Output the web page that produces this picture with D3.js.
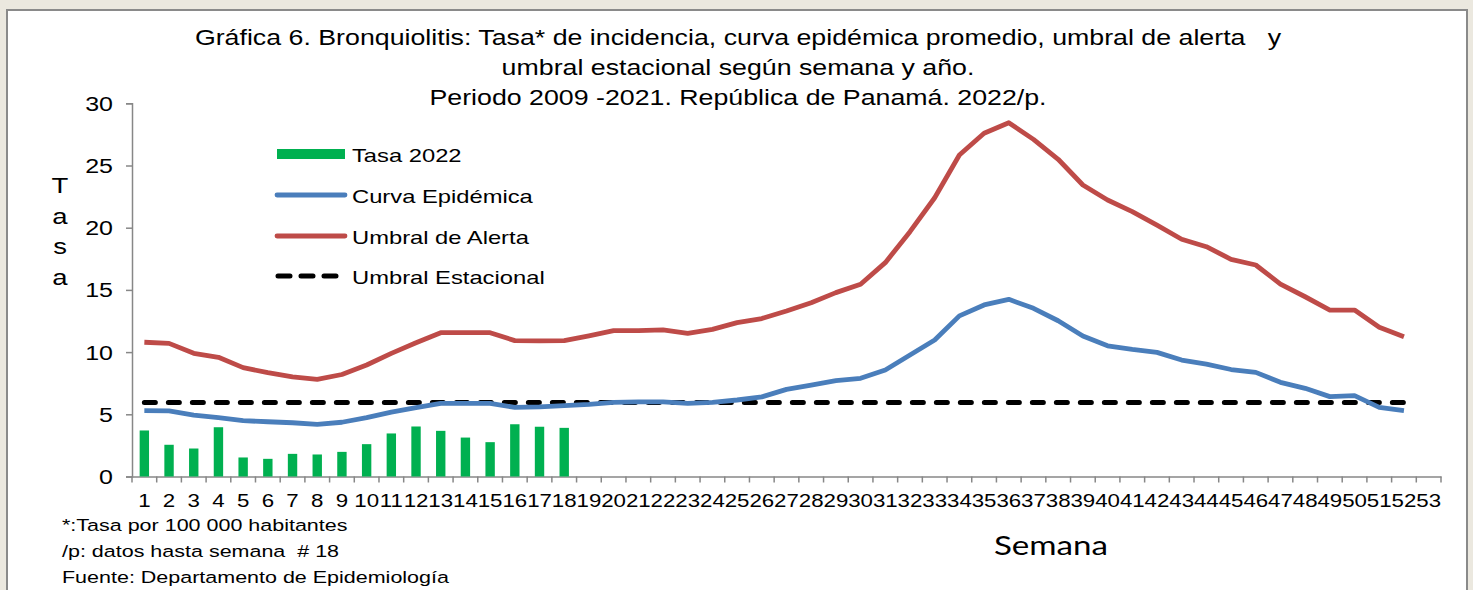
<!DOCTYPE html>
<html>
<head>
<meta charset="utf-8">
<script src="https://cdn.jsdelivr.net/npm/d3@7"></script>
<style>
  html, body { margin: 0; padding: 0; background: #ebe8df; }
  svg { display: block; }
  text { font-family: "Liberation Sans", Arial, sans-serif; fill: #000; }
</style>
</head>
<body>
<svg id="chart" width="1473" height="590"></svg>
<script>
// ---------------- DATA ----------------
const weeks = d3.range(1, 54).map(String); // categories 1..53
const lineWeeks = weeks.slice(0, 52);
const tasa2022 = [3.70, 2.55, 2.25, 3.96, 1.53, 1.42, 1.82, 1.77, 1.98, 2.60, 3.46, 4.02, 3.67, 3.13, 2.76, 4.20, 4.00, 3.91];
const curvaEpidemica = [5.29, 5.27, 4.94, 4.73, 4.49, 4.40, 4.32, 4.19, 4.36, 4.73, 5.18, 5.53, 5.88, 5.88, 5.88, 5.56, 5.60, 5.69,
  5.80, 5.96, 6.00, 6.00, 5.88, 5.96, 6.15, 6.40, 7.00, 7.35, 7.70, 7.89, 8.56, 9.77, 10.97, 12.91, 13.79, 14.24,
  13.52, 12.52, 11.29, 10.51, 10.22, 9.98, 9.36, 9.04, 8.60, 8.37, 7.57, 7.09, 6.42, 6.50, 5.56, 5.29];
const umbralAlerta = [10.79, 10.70, 9.90, 9.58, 8.75, 8.35, 8.00, 7.80, 8.20, 8.96, 9.90, 10.75, 11.56, 11.56, 11.56, 10.92, 10.90, 10.92,
  11.30, 11.72, 11.72, 11.78, 11.50, 11.83, 12.37, 12.70, 13.30, 13.97, 14.78, 15.45, 17.19, 19.68, 22.41, 25.84, 27.59, 28.44,
  27.10, 25.50, 23.43, 22.23, 21.29, 20.20, 19.07, 18.47, 17.46, 17.00, 15.47, 14.45, 13.38, 13.38, 12.00, 11.24];
const umbralEstacional = [5.95, 5.95, 5.95, 5.95, 5.95, 5.95, 5.95, 5.95, 5.95, 5.95, 5.95, 5.95, 5.95, 5.95, 5.95, 5.95, 5.95, 5.95,
  5.95, 5.95, 5.95, 5.95, 5.95, 5.95, 5.95, 5.95, 5.95, 5.95, 5.95, 5.95, 5.95, 5.95, 5.95, 5.95, 5.95, 5.95,
  5.95, 5.95, 5.95, 5.95, 5.95, 5.95, 5.95, 5.95, 5.95, 5.95, 5.95, 5.95, 5.95, 5.95, 5.95, 5.95];
const yTicks = [0, 5, 10, 15, 20, 25, 30];
const titleLines = [
  "Gráfica 6. Bronquiolitis: Tasa* de incidencia, curva epidémica promedio, umbral de alerta   y",
  "umbral estacional según semana y año.",
  "Periodo 2009 -2021. República de Panamá. 2022/p."
];
const legendLabels = ["Tasa 2022", "Curva Epidémica", "Umbral de Alerta", "Umbral Estacional"];
const notes = ["*:Tasa por 100 000 habitantes", "/p: datos hasta semana  # 18", "Fuente: Departamento de Epidemiología"];

// ---------------- STYLE ----------------
const SX = 1.25; // horizontal stretch of the original image text
const C = { green: "#00b050", blue: "#4a7ebb", red: "#be4b48", black: "#000", axis: "#878787" };

const svg = d3.select("#chart");

// panel
svg.append("rect").attr("x", 7).attr("y", 10).attr("width", 1460).attr("height", 600)
  .attr("fill", "#fff").attr("stroke", "#8a8a8a").attr("stroke-width", 2);

function stext(x, y, str, size, anchor, family, sx) {
  const t = svg.append("text")
    .attr("transform", `translate(${x},${y}) scale(${sx || SX},1)`)
    .attr("font-size", size)
    .attr("text-anchor", anchor || "start")
    .style("white-space", "pre")
    .text(str);
  if (family) t.style("font-family", family);
  return t;
}

// scales
const x = d3.scaleBand().domain(weeks).range([132, 1441]).paddingInner(0.62).paddingOuter(0.31);
const y = d3.scaleLinear().domain([0, 30]).range([476.5, 103.3]);
const cx = d => x(d) + x.bandwidth() / 2;

// title
titleLines.forEach((s, i) => stext(738, 45 + i * 30, s, 21.4, "middle"));

// y axis
const yAxis = d3.axisLeft(y).tickValues(yTicks).tickSize(6).tickPadding(0);
const gy = svg.append("g").attr("transform", "translate(132,0)").call(yAxis);
gy.select(".domain").attr("stroke", C.axis).attr("stroke-width", 1.5);
gy.selectAll(".tick line").attr("stroke", C.axis).attr("stroke-width", 1.5);
gy.selectAll(".tick text")
  .attr("x", null).attr("dy", "0.35em")
  .attr("transform", `translate(-19,0) scale(${SX},1)`)
  .attr("font-size", 20).attr("font-family", "Liberation Sans, Arial, sans-serif").attr("fill", "#000");

// x axis
const xAxis = d3.axisBottom(x).tickSize(0).tickPadding(0);
const gx = svg.append("g").attr("transform", `translate(0,${y(0)})`).call(xAxis);
gx.select(".domain").attr("stroke", C.axis).attr("stroke-width", 1.5);
gx.selectAll(".tick text")
  .attr("y", null).attr("dy", null)
  .attr("transform", `translate(0,30.5) scale(1.16,1)`)
  .attr("font-size", 19.2).attr("font-family", "Liberation Sans, Arial, sans-serif").attr("fill", "#000");
// boundary tick marks
const bounds = weeks.map(w => x(w) - x.step() * x.paddingInner() / 2).concat([x.range()[1]]);
gx.selectAll("line.bt").data(bounds).enter().append("line").attr("class", "bt")
  .attr("x1", d => d).attr("x2", d => d).attr("y1", 0).attr("y2", 6)
  .attr("stroke", C.axis).attr("stroke-width", 1.5);

// bars
svg.append("g").selectAll("rect").data(tasa2022).enter().append("rect")
  .attr("x", (d, i) => x(weeks[i])).attr("width", x.bandwidth())
  .attr("y", d => y(d)).attr("height", d => y(0) - y(d))
  .attr("fill", C.green);

// lines
const line = d3.line().x((d, i) => cx(lineWeeks[i])).y(d => y(d));
svg.append("path").datum(umbralEstacional).attr("d", line).attr("fill", "none")
  .attr("stroke", C.black).attr("stroke-width", 5).attr("stroke-dasharray", "11,13").attr("stroke-linecap", "round");
svg.append("path").datum(curvaEpidemica).attr("d", line).attr("fill", "none")
  .attr("stroke", C.blue).attr("stroke-width", 4.8).attr("stroke-linejoin", "round");
svg.append("path").datum(umbralAlerta).attr("d", line).attr("fill", "none")
  .attr("stroke", C.red).attr("stroke-width", 4.8).attr("stroke-linejoin", "round");

// legend
const lg = svg.append("g");
const ly = [154, 195, 236, 276];
lg.append("rect").attr("x", 277).attr("y", ly[0] - 5).attr("width", 68).attr("height", 10).attr("fill", C.green);
lg.append("line").attr("x1", 277).attr("x2", 345).attr("y1", ly[1]).attr("y2", ly[1])
  .attr("stroke", C.blue).attr("stroke-width", 4.8).attr("stroke-linecap", "round");
lg.append("line").attr("x1", 277).attr("x2", 345).attr("y1", ly[2]).attr("y2", ly[2])
  .attr("stroke", C.red).attr("stroke-width", 4.8).attr("stroke-linecap", "round");
lg.append("line").attr("x1", 278).attr("x2", 345).attr("y1", ly[3]).attr("y2", ly[3])
  .attr("stroke", C.black).attr("stroke-width", 5).attr("stroke-dasharray", "12,11").attr("stroke-linecap", "round");
legendLabels.forEach((s, i) => stext(352, ly[i] + 7.5, s, 19, "start"));

// y label stacked letters
["T", "a", "s", "a"].forEach((ch, i) => stext(60, 193 + i * 30.7, ch, 22, "middle"));

// x label
stext(1051, 555, "Semana", 26.5, "middle", "Lato, 'Open Sans', sans-serif");

// notes
notes.forEach((s, i) => stext(62, 531 + i * 26, s, 17.2, "start"));
</script>
</body>
</html>
